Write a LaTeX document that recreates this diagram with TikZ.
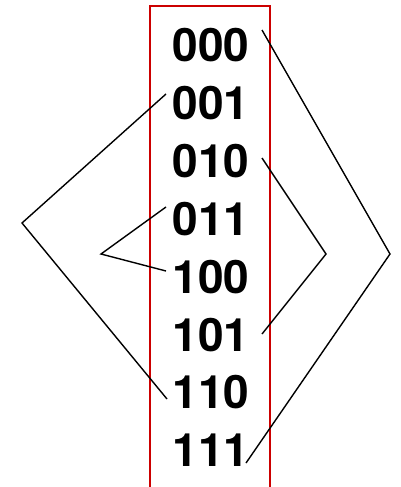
\documentclass[tikz,border=0pt]{standalone}
\usepackage{fontspec}
\setmainfont{TeX Gyre Heros}
\definecolor{frame}{RGB}{204,0,0}
\begin{document}
\begin{tikzpicture}[x=1pt,y=-1pt,
  code/.style={font=\fontsize{46}{46}\selectfont\bfseries, anchor=base, inner sep=0pt},
  link/.style={draw=black, line width=1.4pt, line join=miter},
  box/.style={draw=frame, line width=1.8pt}]
\useasboundingbox (0,0) rectangle (401,487);
\draw[box] (150,487) -- (150,6) -- (270,6) -- (270,487);
\foreach \t [count=\i from 0] in {000,001,010,011,100,101,110,111}
  \node[code] (n\t) at (211,{62+57.8*\i}) {\t};
\coordinate (a1) at (166,94);  \coordinate (av) at (22,223);  \coordinate (a2) at (167,399);
\coordinate (b1) at (166,207); \coordinate (bv) at (101,254); \coordinate (b2) at (166,271);
\coordinate (c1) at (262,30);  \coordinate (cv) at (390,254); \coordinate (c2) at (246,463);
\coordinate (d1) at (262,158); \coordinate (dv) at (326,254); \coordinate (d2) at (262,334);
\draw[link] (a1) -- (av) -- (a2);
\draw[link] (b1) -- (bv) -- (b2);
\draw[link] (c1) -- (cv) -- (c2);
\draw[link] (d1) -- (dv) -- (d2);
\end{tikzpicture}
\end{document}
